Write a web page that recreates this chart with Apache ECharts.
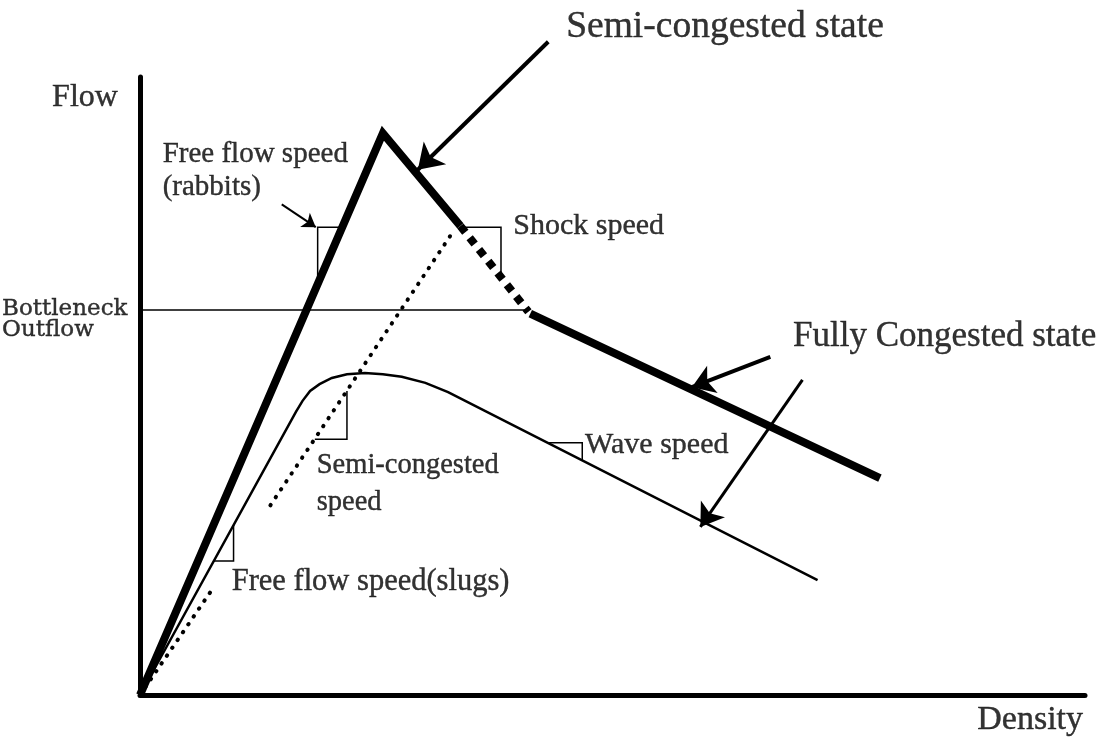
<!DOCTYPE html>
<html>
<head>
<meta charset="utf-8">
<script src="https://cdn.jsdelivr.net/npm/echarts@6/dist/echarts.min.js"></script>
<style>
html,body{margin:0;padding:0;background:#fff;}
#chart{width:1102px;height:745px;}
</style>
</head>
<body>
<div id="chart"></div>
<script>
// ---- data (density, flow) in arbitrary 0-100 units ----
const freeFlowRabbits = [[0, 0], [25.7, 90.9]];
const semiCongestedState = [[25.7, 90.9], [33.9, 75.9]];
const shockTransition = [[33.9, 75.9], [41.1, 62.0]];
const fullyCongestedState = [[41.3, 61.7], [78.3, 35.1]];
const bottleneckOutflow = [[0, 62.3], [41.1, 62.3]];
const slugsCurve = [[0, 0], [16.5, 45.8], [17.2, 47.6], [18.0, 49.2], [19.0, 50.3], [20.3, 51.3], [21.9, 51.9], [23.8, 52.1], [25.7, 51.9], [27.7, 51.5], [30.2, 50.5], [32.6, 49.0], [71.7, 18.6]];
const semiSpeedLow = [[0, 0], [7.6, 17.0]];
const semiSpeedHigh = [[13.8, 30.7], [33.1, 74.9]];

const rabbitsBracket = [[18.8, 66.7], [18.8, 75.7], [21.4, 75.7]];
const shockBracket = [[34.0, 75.7], [38.2, 75.7], [38.2, 67.5]];
const semiBracket = [[21.9, 49.2], [21.9, 41.4], [18.5, 41.4]];
const slugsBracket = [[9.9, 27.5], [9.9, 21.7], [7.8, 21.7]];
const waveBracket = [[43.2, 40.8], [46.8, 40.8], [46.8, 38.0]];

const arrowSemiState = [[43.2, 105.7], [29.4, 85.0]];
const arrowRabbits = [[15.0, 79.4], [18.6, 75.7]];
const arrowFully1 = [[66.7, 54.7], [58.4, 49.8]];
const arrowFully2 = [[70.1, 51.0], [59.3, 27.2]];

// annotation texts and their anchor points (density, flow)
const stateLabels = ['Semi-congested state', 'Fully Congested state'];
const stateLabelAt = [[45.1, 108.0], [69.1, 57.9]];
const axisLabels = ['Flow', 'Density'];
const axisLabelAt = [[-9.3, 96.6], [88.6, -4.0]];
const speedLabels = ['Free flow speed', '(rabbits)', 'Shock speed', 'Semi-congested', 'speed', 'Wave speed', 'Free flow speed(slugs)'];
const speedLabelAt = [[2.4, 87.4], [2.4, 82.2], [39.5, 75.9], [18.7, 37.1], [18.7, 31.2], [47.1, 40.5], [9.7, 18.3]];
const outflowLabels = ['Bottleneck', 'Outflow'];
const outflowLabelAt = [[-14.6, 62.4], [-14.6, 59.0]];

// ---- build ----
const chart = echarts.init(document.getElementById('chart'), null, {renderer: 'canvas'});
const BLACK = '#000';
const SERIF = '"Liberation Serif", "Times New Roman", serif';

function lineSeries(data, width, extra) {
  return Object.assign({
    type: 'line', data: data, symbol: 'none', silent: true, clip: false,
    animation: false,
    lineStyle: Object.assign({color: BLACK, width: width, join: 'miter', cap: 'butt'}, (extra && extra.ls) || {})
  }, (extra && extra.s) || {});
}
function arrowSeries(coords, width, size) {
  return {
    type: 'lines', coordinateSystem: 'cartesian2d', silent: true, clip: false, animation: false,
    symbol: ['none', 'arrow'], symbolSize: size,
    lineStyle: {color: BLACK, width: width, opacity: 1, curveness: 0},
    data: [{coords: coords}]
  };
}
// per-item font sizes (style), indexed like the text arrays
function labelSeries(texts, at, font, sizes, lh) {
  return {
    type: 'scatter', silent: true, clip: false, animation: false,
    symbolSize: 1, itemStyle: {color: 'rgba(0,0,0,0)'},
    data: texts.map((t, i) => ({
      value: [at[i][0], at[i][1]], name: t,
      label: {fontSize: sizes[i]}
    })),
    label: {
      show: true, position: 'inside', align: 'left', verticalAlign: 'middle',
      formatter: p => p.name, color: BLACK, fontFamily: font, lineHeight: lh,
      textBorderColor: BLACK, textBorderWidth: 0.4
    }
  };
}

const option = {
  backgroundColor: '#fff',
  animation: false,
  grid: {left: 140, right: 17, top: 77, bottom: 50, containLabel: false},
  xAxis: {
    type: 'value', min: 0, max: 100,
    axisLine: {show: true, onZero: false, lineStyle: {color: BLACK, width: 5}},
    axisTick: {show: false}, axisLabel: {show: false}, splitLine: {show: false}
  },
  yAxis: {
    type: 'value', min: 0, max: 100,
    axisLine: {show: true, onZero: false, lineStyle: {color: BLACK, width: 5}},
    axisTick: {show: false}, axisLabel: {show: false}, splitLine: {show: false}
  },
  series: [
    lineSeries(bottleneckOutflow, 1.5),
    lineSeries(slugsCurve, 2.5),
    lineSeries(semiSpeedLow, 4, {ls: {type: [0.5, 9], cap: 'round'}}),
    lineSeries(semiSpeedHigh, 4, {ls: {type: [0.5, 9], cap: 'round'}}),
    lineSeries(freeFlowRabbits.concat(semiCongestedState.slice(1)), 8),
    lineSeries(shockTransition, 8, {ls: {type: [8, 7]}}),
    lineSeries(fullyCongestedState, 8),
    lineSeries(rabbitsBracket, 1.5),
    lineSeries(shockBracket, 1.5),
    lineSeries(semiBracket, 1.5),
    lineSeries(slugsBracket, 1.5),
    lineSeries(waveBracket, 1.5),
    arrowSeries(arrowSemiState, 4, 24),
    arrowSeries(arrowRabbits, 2, 13),
    arrowSeries(arrowFully1, 4, 22),
    arrowSeries(arrowFully2, 3, 22),
    labelSeries(stateLabels, stateLabelAt, SERIF, [37.5, 35], 40),
    labelSeries(axisLabels, axisLabelAt, SERIF, [32, 34], 36),
    labelSeries(speedLabels, speedLabelAt, SERIF, [29, 29, 30, 28.5, 28.5, 30, 30.5], 34),
    labelSeries(outflowLabels, outflowLabelAt, '"DejaVu Serif", serif', [23, 23], 22)
  ]
};
chart.setOption(option);
</script>
</body>
</html>
